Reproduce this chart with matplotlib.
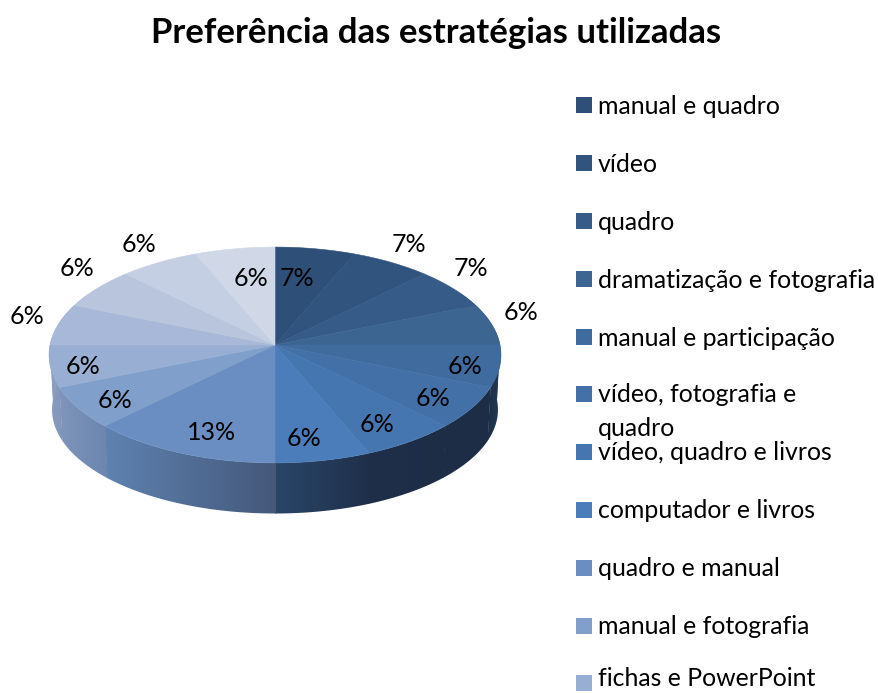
import numpy as np
import matplotlib
matplotlib.use("Agg")
import matplotlib.pyplot as plt
from matplotlib.colors import LinearSegmentedColormap
from matplotlib.patches import Polygon, Rectangle

plt.rcParams['font.family'] = ['Lato', 'DejaVu Sans']

titulo = "Preferência das estratégias utilizadas"
legenda = ["manual e quadro", "vídeo", "quadro", "dramatização e fotografia",
           "manual e participação", "vídeo, fotografia e\nquadro",
           "vídeo, quadro e livros", "computador e livros", "quadro e manual",
           "manual e fotografia", "fichas e PowerPoint"]
# peso de cada fatia (15 fatias, a de 13% ocupa o dobro)
valores = [1, 1, 1, 1, 1, 1, 1, 1, 2, 1, 1, 1, 1, 1, 1]
rotulos = ["7%", "7%", "7%", "6%", "6%", "6%", "6%", "6%", "13%", "6%", "6%", "6%", "6%", "6%", "6%"]

cores = ["#2E4F78", "#31547F", "#365B88", "#3C6592", "#3F6B9E", "#4371A7", "#4676B0", "#4A7DB9",
         "#6A8EC1", "#819FCB", "#98AED2", "#A8B8D8", "#B8C5DD", "#C5CFE3", "#D0D8E8"]
# cor da parede lateral (esquerda, direita) de cada fatia
paredes = [("#1F2F48", "#1F2F48")] * 4 + [
    ("#1E2E47", "#253B58"), ("#1E2D46", "#1E2E47"), ("#1F2F49", "#1E2D46"), ("#2A4669", "#1F2F49"),
    ("#5F82B0", "#44587A"), ("#8095BA", "#6B85AE"), ("#8C9EC0", "#8095BA"),
] + [("#8C9EC0", "#8C9EC0")] * 4

# geometria da pizza em pixels
cx, cy = 275, 345
rx, ry, persp = 225, 107, 0.0926
rx2, ry2, cy2 = 222, 103, 400

pos_rotulos = [(297, 278), (409, 244), (471, 269), (521, 313), (465, 366), (433, 399), (377, 425), (304, 438),
               (212, 433), (115, 400), (83, 366), (27, 317), (77, 268), (139, 244), (251, 278)]
y_legenda = [106, 164, 222, 280, 338, 395, 453, 511, 569, 627, 684]


def topo(th):
    u, v = np.sin(th), np.cos(th)
    k = 1 / (1 + persp * v)
    return cx + rx * u * k, cy - ry * v * k


def base(th):
    u, v = np.sin(th), np.cos(th)
    k = 1 / (1 + persp * v)
    return cx + rx2 * u * k, cy2 - ry2 * v * k


fig = plt.figure(figsize=(8.79, 6.93), dpi=100)
ax = fig.add_axes([0, 0, 1, 1])

fracoes = np.array(valores) / sum(valores)
limites = np.concatenate([[0], np.cumsum(fracoes)]) * 2 * np.pi
lim_a, lim_b = np.radians(60), np.radians(300)

# paredes laterais com gradiente horizontal, com pequena sobreposicao para nao deixar frestas
for i in range(len(valores)):
    a, b = max(limites[i], lim_a), min(limites[i + 1], lim_b)
    if a >= b:
        continue
    th = np.linspace(a - 0.004, b, 40)
    xt, yt = topo(th)
    xb, yb = base(th)
    pts = np.column_stack([np.r_[xt, xb[::-1]], np.r_[yt, yb[::-1]]])
    forma = Polygon(pts, closed=True, fc="none", ec="none", transform=ax.transData)
    ax.add_patch(forma)
    cmap = LinearSegmentedColormap.from_list("p", list(paredes[i]))
    img = ax.imshow(np.linspace(0, 1, 64).reshape(1, -1), cmap=cmap, aspect="auto",
                    extent=(pts[:, 0].min() - 1, pts[:, 0].max() + 1, pts[:, 1].max() + 1, pts[:, 1].min() - 1))
    img.set_clip_path(forma)

# face de cima
for i in range(len(valores)):
    th = np.linspace(limites[i], limites[i + 1], 40)
    xt, yt = topo(th)
    pts = np.column_stack([np.r_[cx, xt], np.r_[cy, yt]])
    ax.add_patch(Polygon(pts, closed=True, fc=cores[i], ec=cores[i], lw=0.4))

for (x, y), r in zip(pos_rotulos, rotulos):
    ax.text(x, y, r, ha="center", va="center", fontsize=18, color="black")

ax.text(436, 33, titulo, ha="center", va="center", fontsize=25, fontweight="bold", color="black")

for nome, y, cor in zip(legenda, y_legenda, cores):
    ax.add_patch(Rectangle((576, y - 9), 16, 16, fc=cor, ec="none"))
    if "\n" in nome:
        l1, l2 = nome.split("\n")
        ax.text(598, y, l1, ha="left", va="center", fontsize=17.9, color="black")
        ax.text(598, y + 33, l2, ha="left", va="center", fontsize=17.9, color="black")
    else:
        # a ultima linha fica colada na borda da imagem
        ax.text(598, min(y, 679), nome, ha="left", va="center", fontsize=17.9, color="black")

ax.set_xlim(0, 879)
ax.set_ylim(693, 0)
ax.axis("off")
fig.savefig("out.png", dpi=100, facecolor="white")
